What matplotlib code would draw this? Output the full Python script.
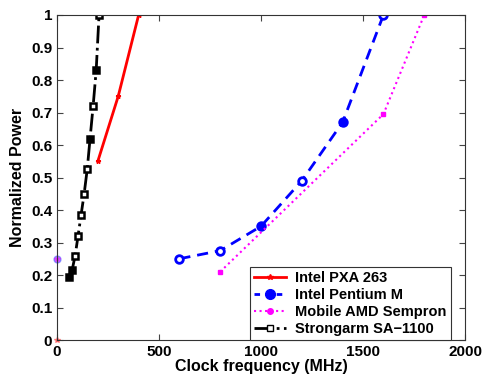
import matplotlib.pyplot as plt

plt.rcParams['font.family'] = ['Liberation Sans', 'DejaVu Sans']
plt.rcParams['font.weight'] = 'bold'

pxa_x = [200, 300, 400]
pxa_y = [0.55, 0.75, 1.0]

pm_x = [600, 800, 1000, 1200, 1400, 1600]
pm_y = [0.25, 0.275, 0.35, 0.49, 0.67, 1.0]
pm_filled = [False, False, True, False, True, False]

amd_x = [800, 1600, 1800]
amd_y = [0.21, 0.695, 1.0]

sa_x = [59, 74, 89, 103, 118, 133, 148, 162, 177, 192, 206]
sa_y = [0.195, 0.215, 0.26, 0.32, 0.385, 0.45, 0.525, 0.62, 0.72, 0.83, 1.0]
sa_filled = [True, True, False, False, False, False, False, True, False, True, False]

fig = plt.figure(figsize=(4.89, 3.75), dpi=100)
ax = fig.add_axes([0.1166, 0.0933, 0.8344, 0.8667])

ax.plot(pxa_x, pxa_y, color='red', lw=2, marker='*', ms=3.5, label='Intel PXA 263')
ax.plot(pm_x, pm_y, color='blue', lw=2, ls=(0, (4, 2.5)), label='Intel Pentium M')
for x, y, f in zip(pm_x, pm_y, pm_filled):
    ax.plot(x, y, 'o', color='blue', ms=5.5, mfc='blue' if f else 'white', mew=2)
ax.plot(amd_x, amd_y, color='magenta', lw=1.5, ls=':', marker='s', ms=3, label='Mobile AMD Sempron')
ax.plot(sa_x, sa_y, color='black', lw=2, ls='-.', label='Strongarm SA\u22121100')
for x, y, f in zip(sa_x, sa_y, sa_filled):
    ax.plot(x, y, 's', color='black', ms=5, mfc='black' if f else 'white', mew=1.8)

# stray markers at the axis
ax.plot(0, 0.25, 'o', color='blue', ms=5, alpha=0.35, clip_on=False)
ax.plot(0, 0.25, '*', color='magenta', ms=4, alpha=0.5, clip_on=False)
ax.plot(0, 0, '*', color='red', ms=4, alpha=0.4, clip_on=False)

# legend handles
h1, = ax.plot([], [], color='red', lw=2, marker='*', ms=4)
h2, = ax.plot([], [], color='blue', lw=2, ls=(0, (2, 2)), marker='o', ms=7)
h3, = ax.plot([], [], color='magenta', lw=1.5, ls=':', marker='o', ms=4)
h4, = ax.plot([], [], color='black', lw=2, ls='-.', marker='s', ms=4, mfc='white')
leg = ax.legend([h1, h2, h3, h4],
                ['Intel PXA 263', 'Intel Pentium M', 'Mobile AMD Sempron', 'Strongarm SA\u22121100'],
                loc='lower right', bbox_to_anchor=(0.965, 0.0), borderaxespad=0,
                fancybox=False, edgecolor='#333333', framealpha=1, fontsize=10.5,
                handlelength=2.2, labelspacing=0.2, borderpad=0.3, handletextpad=0.6)
leg.get_frame().set_linewidth(0.8)

ax.set_xlim(0, 2000)
ax.set_ylim(0, 1)
ax.set_xticks([0, 500, 1000, 1500, 2000])
ax.set_yticks([0, 0.1, 0.2, 0.3, 0.4, 0.5, 0.6, 0.7, 0.8, 0.9, 1])
ax.set_yticklabels(['0', '0.1', '0.2', '0.3', '0.4', '0.5', '0.6', '0.7', '0.8', '0.9', '1'])
ax.tick_params(direction='in', top=True, right=True, labelsize=11, length=4, color='#444444')
for s in ax.spines.values():
    s.set_linewidth(0.8)
    s.set_color('#333333')
ax.set_xlabel('Clock frequency (MHz)', fontsize=11.5, fontweight='bold', labelpad=0)
ax.set_ylabel('Normalized Power', fontsize=11.5, fontweight='bold', labelpad=4)

fig.savefig('out.png', dpi=100)
